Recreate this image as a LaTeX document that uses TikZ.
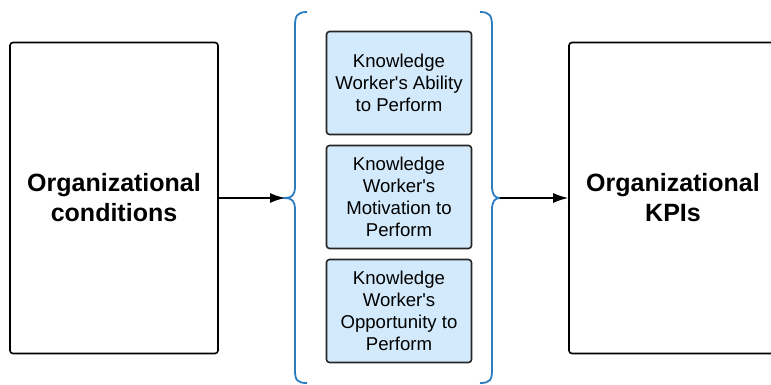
\documentclass[tikz,border=0pt]{standalone}
\usepackage{fontspec}
\setmainfont{Liberation Sans}
\usetikzlibrary{positioning, arrows.meta}
\definecolor{bracecol}{HTML}{2C7DC0}
\definecolor{factfill}{HTML}{D2EAFB}
\newcommand{\apos}{\textquotesingle}

\begin{document}
\begin{tikzpicture}[x=1pt,y=-1pt,>={Latex[length=15pt,width=10pt]},
    bigbox/.style={rectangle,draw,line width=1.6pt,rounded corners=3pt,minimum width=208pt,minimum height=311pt,align=center,font=\bfseries\fontsize{25}{30}\selectfont},
    factbox/.style={rectangle,draw=black!85,line width=1.6pt,rounded corners=3pt,fill=factfill,minimum width=145pt,minimum height=103pt,align=center,font=\fontsize{18.6}{22}\selectfont},
    brace/.style={draw=bracecol,line width=1.8pt}]
        \clip (0,0) rectangle (771,385);
        \useasboundingbox (0,0) rectangle (771,385);

        \node at (114,198) [bigbox] (conditions) {Organizational\\conditions};
        \node at (673,198) [bigbox] (kpis) {Organizational\\KPIs};

        \node at (399,83) [factbox] (ability) {Knowledge\\Worker\apos s Ability\\to Perform};
        \node at (399,197) [factbox] (motivation) {Knowledge\\Worker\apos s\\Motivation to\\Perform};
        \node at (399,311) [factbox] (opportunity) {Knowledge\\Worker\apos s\\Opportunity to\\Perform};

        % braces round the three factors
        \coordinate (ltip) at (285,198);
        \coordinate (rtip) at (500,198);
        \path[brace] (307,12) .. controls (297,12) and (295,16) .. (295,26) -- (295,186)
            .. controls (295,195) and (292,198) .. (ltip)
            .. controls (292,198) and (295,201) .. (295,210) -- (295,370)
            .. controls (295,380) and (297,383) .. (307,383);
        \path[brace] (480,12) .. controls (490,12) and (492,16) .. (492,26) -- (492,186)
            .. controls (492,195) and (495,198) .. (rtip)
            .. controls (495,198) and (492,201) .. (492,210) -- (492,370)
            .. controls (492,380) and (490,383) .. (480,383);

        \draw[->,line width=1.4pt] (conditions.east) -- (ltip);
        \draw[->,line width=1.4pt] (rtip) -- (kpis.west);
    \end{tikzpicture}
\end{document}
